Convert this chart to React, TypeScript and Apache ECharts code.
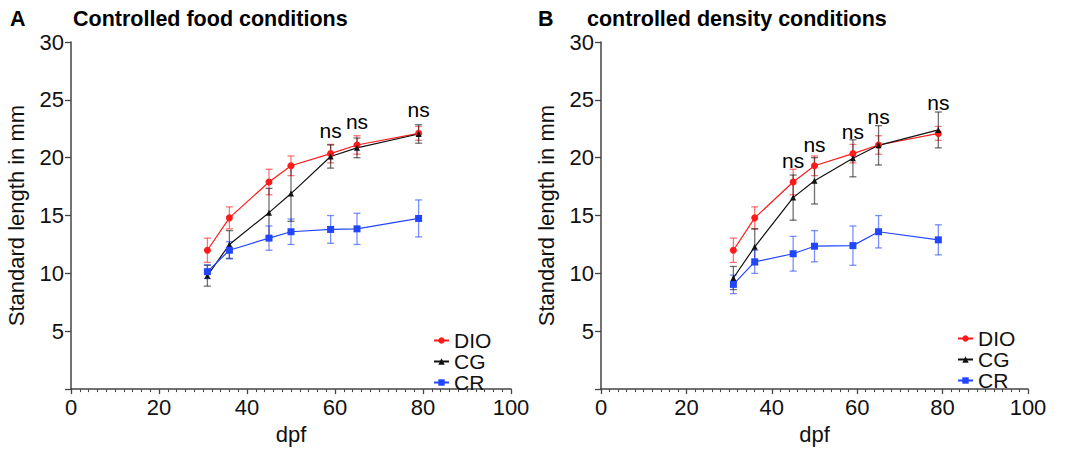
import React, { useEffect, useRef } from "react";
import * as echarts from "echarts";

const FONT = "'Liberation Sans', Arial, Helvetica, sans-serif";

// dpf time points
const dpf = [31, 36, 45, 50, 59, 65, 79];

// Panel A: controlled food conditions
const dioA = [12.0, 14.8, 17.9, 19.3, 20.35, 21.1, 22.1];
const dioAErr = [1.05, 0.95, 1.1, 0.85, 0.8, 0.8, 0.6];
const cgA = [9.8, 12.5, 15.25, 16.9, 20.1, 20.85, 22.05];
const cgAErr = [0.9, 1.2, 2.1, 2.4, 1.0, 0.85, 0.8];
const crA = [10.15, 12.0, 13.05, 13.6, 13.8, 13.85, 14.75];
const crAErr = [0.6, 0.75, 1.05, 1.1, 1.2, 1.35, 1.6];
const nsAX = [59, 65, 79];
const nsAY = [22.35, 23.1, 24.15];

// Panel B: controlled density conditions
const dioB = [12.0, 14.8, 17.9, 19.3, 20.35, 21.1, 22.1];
const dioBErr = [1.05, 0.95, 1.1, 0.85, 0.8, 0.8, 0.6];
const cgB = [9.6, 12.3, 16.55, 18.0, 19.95, 21.07, 22.4];
const cgBErr = [1.0, 1.55, 1.95, 2.0, 1.6, 1.7, 1.55];
const crB = [9.05, 11.0, 11.7, 12.35, 12.4, 13.6, 12.9];
const crBErr = [0.8, 1.0, 1.5, 1.35, 1.7, 1.4, 1.3];
const nsBX = [45, 50, 59, 65, 79];
const nsBY = [19.8, 21.1, 22.3, 23.6, 24.8];

const RED = "#ff1a1a";
const BLACK = "#111111";
const BLUE = "#2245ff";
const AXIS = "#444444";
const TXT = "#111111";
const FS = 22;

function errSeries(idx: number, ys: number[], es: number[], color: string) {
  return {
    type: "custom",
    xAxisIndex: idx,
    yAxisIndex: idx,
    silent: true,
    z: 1,
    data: dpf.map((x, i) => [x, ys[i] - es[i], ys[i] + es[i]]),
    encode: { x: 0, y: [1, 2] },
    renderItem: (params: any, api: any) => {
      const x = api.value(0);
      const lo = api.coord([x, api.value(1)]);
      const hi = api.coord([x, api.value(2)]);
      const w = 3.5;
      const style = { stroke: color, lineWidth: 1.3, opacity: 0.6 };
      return {
        type: "group",
        children: [
          { type: "line", shape: { x1: lo[0], y1: lo[1], x2: hi[0], y2: hi[1] }, style },
          { type: "line", shape: { x1: lo[0] - w, y1: lo[1], x2: lo[0] + w, y2: lo[1] }, style },
          { type: "line", shape: { x1: hi[0] - w, y1: hi[1], x2: hi[0] + w, y2: hi[1] }, style },
        ],
      };
    },
  };
}

function lineSeries(idx: number, name: string, ys: number[], color: string, symbol: string, size: number) {
  return {
    type: "line",
    name,
    xAxisIndex: idx,
    yAxisIndex: idx,
    z: 3,
    data: dpf.map((x, i) => [x, ys[i]]),
    symbol,
    symbolSize: size,
    itemStyle: { color },
    lineStyle: { color, width: 1.2 },
  };
}

function nsSeries(idx: number, xs: number[], ys: number[]) {
  return {
    type: "scatter",
    xAxisIndex: idx,
    yAxisIndex: idx,
    silent: true,
    z: 4,
    symbolSize: 0,
    itemStyle: { color: "#000", opacity: 1 },
    data: xs.map((x, i) => [x, ys[i]]),
    label: {
      show: true,
      position: "inside",
      formatter: "ns",
      fontSize: 21,
      fontFamily: FONT,
      color: "#000",
      opacity: 1,
    },
  };
}

function xAxisCfg(idx: number) {
  return {
    type: "value",
    gridIndex: idx,
    min: 0,
    max: 100,
    interval: 20,
    name: "dpf",
    nameLocation: "middle",
    nameGap: 23,
    nameTextStyle: { fontSize: FS, fontFamily: FONT, color: TXT },
    axisLine: { show: true, onZero: false, lineStyle: { color: AXIS, width: 1.5 } },
    axisTick: { show: true, length: 5, lineStyle: { color: AXIS, width: 1.3 } },
    minorTick: { show: true, splitNumber: 10, length: 3, lineStyle: { color: AXIS, width: 1 } },
    splitLine: { show: false },
    minorSplitLine: { show: false },
    axisLabel: { fontSize: FS, fontFamily: FONT, color: TXT, margin: 7 },
  };
}

function yAxisCfg(idx: number) {
  return {
    type: "value",
    gridIndex: idx,
    min: 0,
    max: 30,
    interval: 5,
    name: "Standard length in mm",
    nameLocation: "middle",
    nameGap: 44,
    nameTextStyle: { fontSize: FS, fontFamily: FONT, color: TXT },
    axisLine: { show: true, onZero: false, lineStyle: { color: AXIS, width: 1.5 } },
    axisTick: { show: true, length: 6, lineStyle: { color: AXIS, width: 1.3 } },
    splitLine: { show: false },
    axisLabel: {
      fontSize: FS,
      fontFamily: FONT,
      color: TXT,
      margin: 7,
      formatter: (v: number) => (v === 0 ? "" : String(v)),
    },
  };
}

function legendCfg(left: number, top: number) {
  return {
    orient: "vertical",
    left,
    top,
    itemGap: 0,
    itemWidth: 15,
    itemHeight: 8,
    padding: 0,
    data: ["DIO", "CG", "CR"],
    textStyle: { fontSize: 21, fontFamily: FONT, color: TXT, lineHeight: 21, padding: [0, 0, 0, 0] },
    selectedMode: false,
  };
}

function titleText(x: number, text: string) {
  return {
    type: "text",
    x,
    y: 19,
    style: {
      text,
      fontSize: 21.5,
      fontWeight: "bold",
      fontFamily: FONT,
      fill: "#000",
      verticalAlign: "middle",
      textVerticalAlign: "middle",
    },
  };
}

export default function App() {
  const ref = useRef<HTMLDivElement>(null);
  useEffect(() => {
    if (!ref.current) return;
    const chart = echarts.init(ref.current, null, { renderer: "svg" });
    chart.setOption({
      animation: false,
      backgroundColor: "#ffffff",
      grid: [
        { left: 71, top: 42, width: 440, height: 357 },
        { left: 601, top: 42, width: 427, height: 357 },
      ],
      xAxis: [xAxisCfg(0), xAxisCfg(1)],
      yAxis: [yAxisCfg(0), yAxisCfg(1)],
      legend: [legendCfg(433, 330), legendCfg(957, 328)],
      graphic: [
        titleText(10, "A"),
        titleText(73, "Controlled food conditions"),
        titleText(538, "B"),
        titleText(587, "controlled density conditions"),
      ],
      series: [
        errSeries(0, dioA, dioAErr, RED),
        errSeries(0, cgA, cgAErr, BLACK),
        errSeries(0, crA, crAErr, BLUE),
        lineSeries(0, "DIO", dioA, RED, "circle", 7),
        lineSeries(0, "CG", cgA, BLACK, "triangle", 6),
        lineSeries(0, "CR", crA, BLUE, "rect", 7),
        nsSeries(0, nsAX, nsAY),
        errSeries(1, dioB, dioBErr, RED),
        errSeries(1, cgB, cgBErr, BLACK),
        errSeries(1, crB, crBErr, BLUE),
        lineSeries(1, "DIO", dioB, RED, "circle", 7),
        lineSeries(1, "CG", cgB, BLACK, "triangle", 6),
        lineSeries(1, "CR", crB, BLUE, "rect", 7),
        nsSeries(1, nsBX, nsBY),
      ],
    });
    return () => chart.dispose();
  }, []);
  return (
    <div
      ref={ref}
      style={{ position: "fixed", left: 0, top: 0, width: 1092, height: 450, background: "#fff" }}
    />
  );
}
